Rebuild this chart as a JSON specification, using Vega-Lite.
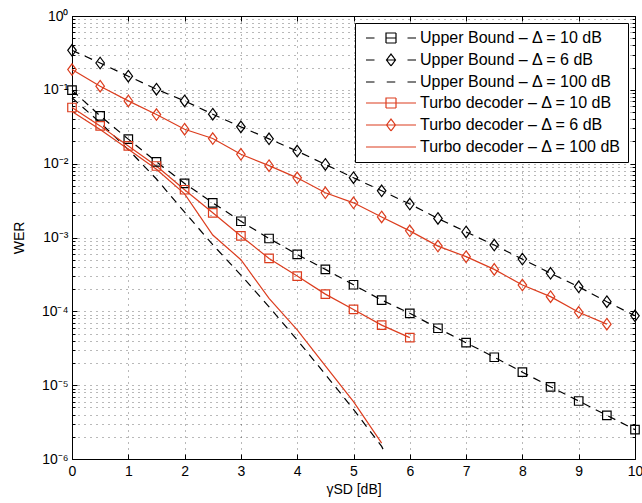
{
  "$schema": "https://vega.github.io/schema/vega-lite/v6.json",
  "width": 563,
  "height": 443,
  "autosize": {"type": "none"},
  "padding": {"left": 72, "top": 16, "right": 7, "bottom": 44},
  "background": "white",
  "config": {
    "font": "Liberation Sans",
    "view": {"stroke": "#000", "strokeWidth": 1},
    "axis": {
      "domainColor": "#000",
      "tickColor": "#000",
      "labelColor": "#000",
      "titleColor": "#000",
      "labelFont": "Liberation Sans",
      "titleFont": "Liberation Sans",
      "labelFontSize": 14,
      "titleFontSize": 14,
      "titleFontWeight": "normal",
      "labelFlush": false,
      "labelOverlap": false,
      "gridColor": "#000",
      "gridOpacity": 0.55,
      "gridDash": [1, 5],
      "gridWidth": 1
    }
  },
  "data": {
    "values": [
      {"s": "Upper Bound – Δ = 10 dB", "x": 0, "y": 0.099},
      {"s": "Upper Bound – Δ = 10 dB", "x": 0.5, "y": 0.0444},
      {"s": "Upper Bound – Δ = 10 dB", "x": 1, "y": 0.0215},
      {"s": "Upper Bound – Δ = 10 dB", "x": 1.5, "y": 0.0106},
      {"s": "Upper Bound – Δ = 10 dB", "x": 2, "y": 0.0054},
      {"s": "Upper Bound – Δ = 10 dB", "x": 2.5, "y": 0.00295},
      {"s": "Upper Bound – Δ = 10 dB", "x": 3, "y": 0.00166},
      {"s": "Upper Bound – Δ = 10 dB", "x": 3.5, "y": 0.00097},
      {"s": "Upper Bound – Δ = 10 dB", "x": 4, "y": 0.00059},
      {"s": "Upper Bound – Δ = 10 dB", "x": 4.5, "y": 0.00037},
      {"s": "Upper Bound – Δ = 10 dB", "x": 5, "y": 0.000229},
      {"s": "Upper Bound – Δ = 10 dB", "x": 5.5, "y": 0.000142},
      {"s": "Upper Bound – Δ = 10 dB", "x": 6, "y": 0.000094},
      {"s": "Upper Bound – Δ = 10 dB", "x": 6.5, "y": 0.000059},
      {"s": "Upper Bound – Δ = 10 dB", "x": 7, "y": 0.0000376},
      {"s": "Upper Bound – Δ = 10 dB", "x": 7.5, "y": 0.0000239},
      {"s": "Upper Bound – Δ = 10 dB", "x": 8, "y": 0.000015},
      {"s": "Upper Bound – Δ = 10 dB", "x": 8.5, "y": 0.0000095},
      {"s": "Upper Bound – Δ = 10 dB", "x": 9, "y": 0.0000061},
      {"s": "Upper Bound – Δ = 10 dB", "x": 9.5, "y": 0.0000039},
      {"s": "Upper Bound – Δ = 10 dB", "x": 10, "y": 0.0000025},
      {"s": "Upper Bound – Δ = 6 dB", "x": 0, "y": 0.343},
      {"s": "Upper Bound – Δ = 6 dB", "x": 0.5, "y": 0.231},
      {"s": "Upper Bound – Δ = 6 dB", "x": 1, "y": 0.153},
      {"s": "Upper Bound – Δ = 6 dB", "x": 1.5, "y": 0.102},
      {"s": "Upper Bound – Δ = 6 dB", "x": 2, "y": 0.0708},
      {"s": "Upper Bound – Δ = 6 dB", "x": 2.5, "y": 0.0468},
      {"s": "Upper Bound – Δ = 6 dB", "x": 3, "y": 0.0315},
      {"s": "Upper Bound – Δ = 6 dB", "x": 3.5, "y": 0.0217},
      {"s": "Upper Bound – Δ = 6 dB", "x": 4, "y": 0.0148},
      {"s": "Upper Bound – Δ = 6 dB", "x": 4.5, "y": 0.00975},
      {"s": "Upper Bound – Δ = 6 dB", "x": 5, "y": 0.00645},
      {"s": "Upper Bound – Δ = 6 dB", "x": 5.5, "y": 0.00429},
      {"s": "Upper Bound – Δ = 6 dB", "x": 6, "y": 0.00284},
      {"s": "Upper Bound – Δ = 6 dB", "x": 6.5, "y": 0.00181},
      {"s": "Upper Bound – Δ = 6 dB", "x": 7, "y": 0.00119},
      {"s": "Upper Bound – Δ = 6 dB", "x": 7.5, "y": 0.00079},
      {"s": "Upper Bound – Δ = 6 dB", "x": 8, "y": 0.00051},
      {"s": "Upper Bound – Δ = 6 dB", "x": 8.5, "y": 0.000327},
      {"s": "Upper Bound – Δ = 6 dB", "x": 9, "y": 0.000215},
      {"s": "Upper Bound – Δ = 6 dB", "x": 9.5, "y": 0.000135},
      {"s": "Upper Bound – Δ = 6 dB", "x": 10, "y": 0.000087},
      {"s": "Upper Bound – Δ = 100 dB", "x": 0, "y": 0.078},
      {"s": "Upper Bound – Δ = 100 dB", "x": 0.5, "y": 0.036},
      {"s": "Upper Bound – Δ = 100 dB", "x": 1, "y": 0.0155},
      {"s": "Upper Bound – Δ = 100 dB", "x": 1.5, "y": 0.0062},
      {"s": "Upper Bound – Δ = 100 dB", "x": 2, "y": 0.0022},
      {"s": "Upper Bound – Δ = 100 dB", "x": 2.5, "y": 0.0008},
      {"s": "Upper Bound – Δ = 100 dB", "x": 3, "y": 0.00031},
      {"s": "Upper Bound – Δ = 100 dB", "x": 3.5, "y": 0.000115},
      {"s": "Upper Bound – Δ = 100 dB", "x": 4, "y": 0.000041},
      {"s": "Upper Bound – Δ = 100 dB", "x": 4.5, "y": 0.000014},
      {"s": "Upper Bound – Δ = 100 dB", "x": 5, "y": 0.0000047},
      {"s": "Upper Bound – Δ = 100 dB", "x": 5.5, "y": 0.00000148},
      {"s": "Upper Bound – Δ = 100 dB", "x": 5.56, "y": 0.0000012},
      {"s": "Turbo decoder – Δ = 10 dB", "x": 0, "y": 0.0576},
      {"s": "Turbo decoder – Δ = 10 dB", "x": 0.5, "y": 0.0325},
      {"s": "Turbo decoder – Δ = 10 dB", "x": 1, "y": 0.0174},
      {"s": "Turbo decoder – Δ = 10 dB", "x": 1.5, "y": 0.0093},
      {"s": "Turbo decoder – Δ = 10 dB", "x": 2, "y": 0.00443},
      {"s": "Turbo decoder – Δ = 10 dB", "x": 2.5, "y": 0.00216},
      {"s": "Turbo decoder – Δ = 10 dB", "x": 3, "y": 0.00105},
      {"s": "Turbo decoder – Δ = 10 dB", "x": 3.5, "y": 0.00052},
      {"s": "Turbo decoder – Δ = 10 dB", "x": 4, "y": 0.0003},
      {"s": "Turbo decoder – Δ = 10 dB", "x": 4.5, "y": 0.000171},
      {"s": "Turbo decoder – Δ = 10 dB", "x": 5, "y": 0.000106},
      {"s": "Turbo decoder – Δ = 10 dB", "x": 5.5, "y": 0.000065},
      {"s": "Turbo decoder – Δ = 10 dB", "x": 6, "y": 0.000044},
      {"s": "Turbo decoder – Δ = 6 dB", "x": 0, "y": 0.188},
      {"s": "Turbo decoder – Δ = 6 dB", "x": 0.5, "y": 0.112},
      {"s": "Turbo decoder – Δ = 6 dB", "x": 1, "y": 0.0708},
      {"s": "Turbo decoder – Δ = 6 dB", "x": 1.5, "y": 0.0463},
      {"s": "Turbo decoder – Δ = 6 dB", "x": 2, "y": 0.0293},
      {"s": "Turbo decoder – Δ = 6 dB", "x": 2.5, "y": 0.0219},
      {"s": "Turbo decoder – Δ = 6 dB", "x": 3, "y": 0.0134},
      {"s": "Turbo decoder – Δ = 6 dB", "x": 3.5, "y": 0.0094},
      {"s": "Turbo decoder – Δ = 6 dB", "x": 4, "y": 0.00643},
      {"s": "Turbo decoder – Δ = 6 dB", "x": 4.5, "y": 0.00403},
      {"s": "Turbo decoder – Δ = 6 dB", "x": 5, "y": 0.00295},
      {"s": "Turbo decoder – Δ = 6 dB", "x": 5.5, "y": 0.0019},
      {"s": "Turbo decoder – Δ = 6 dB", "x": 6, "y": 0.00123},
      {"s": "Turbo decoder – Δ = 6 dB", "x": 6.5, "y": 0.000765},
      {"s": "Turbo decoder – Δ = 6 dB", "x": 7, "y": 0.00055},
      {"s": "Turbo decoder – Δ = 6 dB", "x": 7.5, "y": 0.00037},
      {"s": "Turbo decoder – Δ = 6 dB", "x": 8, "y": 0.000227},
      {"s": "Turbo decoder – Δ = 6 dB", "x": 8.5, "y": 0.000158},
      {"s": "Turbo decoder – Δ = 6 dB", "x": 9, "y": 0.000097},
      {"s": "Turbo decoder – Δ = 6 dB", "x": 9.5, "y": 0.000067},
      {"s": "Turbo decoder – Δ = 100 dB", "x": 0, "y": 0.051},
      {"s": "Turbo decoder – Δ = 100 dB", "x": 0.5, "y": 0.029},
      {"s": "Turbo decoder – Δ = 100 dB", "x": 1, "y": 0.0157},
      {"s": "Turbo decoder – Δ = 100 dB", "x": 1.5, "y": 0.0084},
      {"s": "Turbo decoder – Δ = 100 dB", "x": 2, "y": 0.0039},
      {"s": "Turbo decoder – Δ = 100 dB", "x": 2.5, "y": 0.00108},
      {"s": "Turbo decoder – Δ = 100 dB", "x": 3, "y": 0.0005},
      {"s": "Turbo decoder – Δ = 100 dB", "x": 3.5, "y": 0.00015},
      {"s": "Turbo decoder – Δ = 100 dB", "x": 4, "y": 0.000056},
      {"s": "Turbo decoder – Δ = 100 dB", "x": 4.5, "y": 0.0000182},
      {"s": "Turbo decoder – Δ = 100 dB", "x": 5, "y": 0.000006},
      {"s": "Turbo decoder – Δ = 100 dB", "x": 5.5, "y": 0.00000164}
    ]
  },
  "layer": [
    {
      "transform": [{"filter": {"field": "s", "oneOf": ["Upper Bound – Δ = 10 dB", "Upper Bound – Δ = 6 dB", "Upper Bound – Δ = 100 dB"]}}],
      "mark": {"type": "line", "strokeWidth": 1.2, "strokeDash": [8, 6]},
      "encoding": {
        "x": {
          "field": "x", "type": "quantitative",
          "scale": {"domain": [0, 10], "nice": false, "zero": false},
          "axis": {
            "orient": "bottom",
            "title": "γSD [dB]",
            "values": [0, 1, 2, 3, 4, 5, 6, 7, 8, 9, 10],
            "grid": true,
            "tickSize": -5,
            "labelPadding": 10,
            "titlePadding": 4
          }
        },
        "y": {
          "field": "y", "type": "quantitative",
          "scale": {"type": "log", "domain": [0.000001, 1], "nice": false},
          "axis": {
            "orient": "left",
            "title": "WER",
            "values": [0.000001, 0.000002, 0.000003, 0.000004, 0.000005, 0.000006, 0.000007, 0.000008, 0.000009,
                       0.00001, 0.00002, 0.00003, 0.00004, 0.00005, 0.00006, 0.00007, 0.00008, 0.00009,
                       0.0001, 0.0002, 0.0003, 0.0004, 0.0005, 0.0006, 0.0007, 0.0008, 0.0009,
                       0.001, 0.002, 0.003, 0.004, 0.005, 0.006, 0.007, 0.008, 0.009,
                       0.01, 0.02, 0.03, 0.04, 0.05, 0.06, 0.07, 0.08, 0.09,
                       0.1, 0.2, 0.3, 0.4, 0.5, 0.6, 0.7, 0.8, 0.9, 1],
            "labelExpr": "abs(log(datum.value)/LN10 - round(log(datum.value)/LN10)) < 0.01 ? ['10⁰','10⁻¹','10⁻²','10⁻³','10⁻⁴','10⁻⁵','10⁻⁶'][-round(log(datum.value)/LN10)] : ''",
            "grid": true,
            "tickSize": {"condition": {"test": "abs(log(datum.value)/LN10 - round(log(datum.value)/LN10)) < 0.01", "value": -5}, "value": -3},
            "labelPadding": 9,
            "titlePadding": 15
          }
        },
        "color": {
          "field": "s", "type": "nominal",
          "scale": {
            "domain": ["Upper Bound – Δ = 10 dB", "Upper Bound – Δ = 6 dB", "Upper Bound – Δ = 100 dB", "Turbo decoder – Δ = 10 dB", "Turbo decoder – Δ = 6 dB", "Turbo decoder – Δ = 100 dB"],
            "range": ["#000000", "#000000", "#000000", "#DC3D1E", "#DC3D1E", "#DC3D1E"]
          },
          "legend": {
            "title": null,
            "orient": "top-right",
            "offset": 7,
            "padding": 7,
            "strokeColor": "#000",
            "fillColor": "#fff",
            "cornerRadius": 0,
            "labelFont": "Liberation Sans",
            "labelFontSize": 16,
            "labelColor": "#000",
            "labelLimit": 320,
            "labelOffset": 21,
            "symbolOffset": 21,
            "rowPadding": 5,
            "symbolSize": 100,
            "symbolStrokeWidth": 1.2,
            "encode": {
              "symbols": {
                "update": {
                  "shape": {"signal": "['M-5,0H-3.3M3.3,0H5M-1,-1H1V1H-1ZM-1,0H1','M-5,0H-3.3M3.3,0H5M0,-1.2L0.9,0L0,1.2L-0.9,0ZM-0.9,0H0.9','M-5,0H-3.3M-0.85,0H0.85M3.3,0H5','M-5,0H5M-1,-1H1V1H-1Z','M-5,0H5M0,-1.2L0.9,0L0,1.2L-0.9,0Z','M-5,0H5'][indexof(['Upper Bound – Δ = 10 dB','Upper Bound – Δ = 6 dB','Upper Bound – Δ = 100 dB','Turbo decoder – Δ = 10 dB','Turbo decoder – Δ = 6 dB','Turbo decoder – Δ = 100 dB'], datum.value)]"},
                  "strokeDash": {"value": [1, 0]},
                  "fill": {"value": "transparent"},
                  "size": {"value": 100}
                }
              }
            }
          }
        }
      }
    },
    {
      "transform": [{"filter": {"field": "s", "oneOf": ["Turbo decoder – Δ = 10 dB", "Turbo decoder – Δ = 6 dB", "Turbo decoder – Δ = 100 dB"]}}],
      "mark": {"type": "line", "strokeWidth": 1.2},
      "encoding": {
        "x": {"field": "x", "type": "quantitative", "axis": null},
        "y": {"field": "y", "type": "quantitative", "axis": null},
        "color": {"field": "s", "type": "nominal"}
      }
    },
    {
      "transform": [{"filter": {"field": "s", "oneOf": ["Upper Bound – Δ = 10 dB", "Upper Bound – Δ = 6 dB", "Turbo decoder – Δ = 10 dB", "Turbo decoder – Δ = 6 dB"]}}],
      "mark": {"type": "point", "filled": false, "strokeWidth": 1.2, "size": 100, "opacity": 1},
      "encoding": {
        "x": {
          "field": "x", "type": "quantitative",
          "axis": {"orient": "top", "title": null, "labels": false, "grid": false, "domain": false, "values": [0, 1, 2, 3, 4, 5, 6, 7, 8, 9, 10], "tickSize": -5}
        },
        "y": {
          "field": "y", "type": "quantitative",
          "axis": {"orient": "right", "title": null, "labels": false, "grid": false, "domain": false,
                   "values": [0.000001, 0.000002, 0.000003, 0.000004, 0.000005, 0.000006, 0.000007, 0.000008, 0.000009,
                       0.00001, 0.00002, 0.00003, 0.00004, 0.00005, 0.00006, 0.00007, 0.00008, 0.00009,
                       0.0001, 0.0002, 0.0003, 0.0004, 0.0005, 0.0006, 0.0007, 0.0008, 0.0009,
                       0.001, 0.002, 0.003, 0.004, 0.005, 0.006, 0.007, 0.008, 0.009,
                       0.01, 0.02, 0.03, 0.04, 0.05, 0.06, 0.07, 0.08, 0.09,
                       0.1, 0.2, 0.3, 0.4, 0.5, 0.6, 0.7, 0.8, 0.9, 1],
                   "tickSize": {"condition": {"test": "abs(log(datum.value)/LN10 - round(log(datum.value)/LN10)) < 0.01", "value": -5}, "value": -3}}
        },
        "color": {"field": "s", "type": "nominal"},
        "shape": {
          "field": "s", "type": "nominal",
          "scale": {
            "domain": ["Upper Bound – Δ = 10 dB", "Upper Bound – Δ = 6 dB", "Turbo decoder – Δ = 10 dB", "Turbo decoder – Δ = 6 dB"],
            "range": ["M-0.85,-0.85H0.85V0.85H-0.85Z", "M0,-1.15L0.85,0L0,1.15L-0.85,0Z", "M-0.85,-0.85H0.85V0.85H-0.85Z", "M0,-1.15L0.85,0L0,1.15L-0.85,0Z"]
          },
          "legend": null
        }
      }
    }
  ],
  "resolve": {"axis": {"x": "independent", "y": "independent"}}
}
